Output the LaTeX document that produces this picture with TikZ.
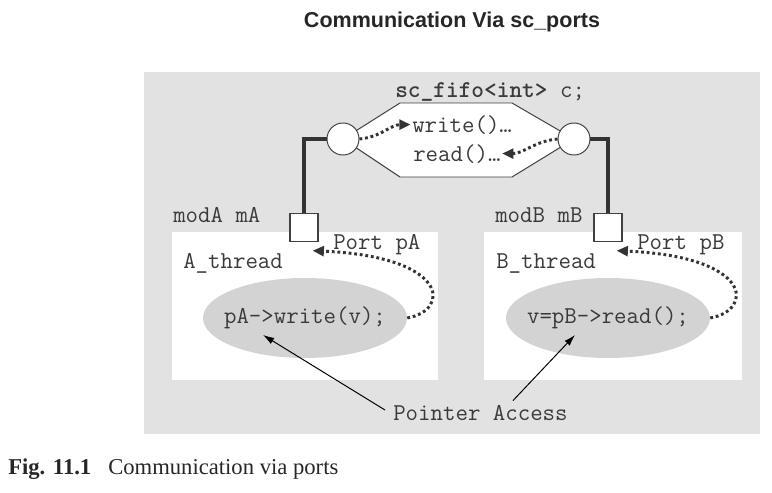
\documentclass[tikz,border=0pt]{standalone}
\usepackage{fontspec}
\setmainfont{Liberation Serif}
\newfontfamily\ttlfont{Liberation Sans}
\usetikzlibrary{arrows.meta,shapes.geometric}
\definecolor{panelgray}{HTML}{E2E2E2}
\definecolor{callgray}{HTML}{D3D3D3}
\definecolor{inktext}{HTML}{3A3A3A}
\definecolor{inkline}{HTML}{404040}
\definecolor{wiredark}{HTML}{333333}
\tikzset{
  panel/.style={fill=panelgray, draw=none},
  threadbox/.style={fill=white, draw=none},
  fifoshape/.style={fill=white, draw=inkline, line width=0.7pt, line join=miter},
  ifc/.style={circle, fill=white, draw=inkline, line width=0.7pt, minimum size=0.8cm, inner sep=0pt},
  portbox/.style={rectangle, fill=white, draw=inkline, line width=0.9pt, minimum size=0.7cm, inner sep=0pt},
  wire/.style={draw=wiredark, line width=2.3pt},
  callshape/.style={ellipse, fill=callgray, draw=none, minimum width=5.1cm, minimum height=2.0cm, inner sep=0pt},
  code/.style={font=\fontsize{17.2pt}{19pt}\selectfont\ttfamily, text=inktext, inner sep=0pt, anchor=base west},
  codec/.style={code, anchor=center},
  dotarr/.style={-{Triangle[length=8pt,width=7pt]}, draw=wiredark, line width=2.1pt, dash pattern=on 2pt off 2pt},
  ptr/.style={-{Latex[length=8pt,width=5pt]}, draw=black, line width=0.7pt},
  ttl/.style={font=\fontsize{15.3pt}{18pt}\selectfont\ttlfont\bfseries, text=black!85, inner sep=0pt, anchor=base},
  capt/.style={font=\fontsize{16.1pt}{19pt}\selectfont, text=black!85, inner sep=0pt, anchor=base west},
}

\begin{document}
\begin{tikzpicture}[x=1cm,y=1cm]
  \useasboundingbox (0.000,0.000) rectangle (19.300,-12.325);
  \node[ttl] (title) at (11.300,-0.675) {Communication Via sc\_ports};
  \fill[panel] (3.600,-1.800) rectangle (19.000,-10.850);
  \draw[fifoshape] (8.575,-3.475) -- (10.000,-2.575) -- (12.800,-2.575) -- (14.350,-3.475) -- (12.800,-4.425) -- (10.000,-4.425) -- cycle;
  \fill[threadbox] (4.300,-5.800) rectangle (10.950,-9.500);
  \fill[threadbox] (12.100,-5.800) rectangle (18.550,-9.500);
  \node[ifc] (inA) at (8.575,-3.475) {};
  \node[ifc] (inB) at (14.350,-3.475) {};
  \node[portbox] (pA) at (7.600,-5.688) {};
  \node[portbox] (pB) at (15.200,-5.688) {};
  \draw[wire] (inA.west) -| (pA.north);
  \draw[wire] (inB.east) -| (pB.north);
  \node[code] (fifoname) at (9.875,-2.425) {\textbf{sc\_fifo<int>} c;};
  \node[code] (wr) at (10.300,-3.300) {write()\ldots};
  \node[code] (rd) at (10.325,-4.025) {read()\ldots};
  \node[code] (modA) at (4.325,-5.550) {modA mA};
  \node[code] (modB) at (12.375,-5.550) {modB mB};
  \node[code] (portA) at (8.325,-6.225) {Port pA};
  \node[code] (portB) at (15.925,-6.225) {Port pB};
  \node[code] (thrA) at (4.575,-6.700) {A\_thread};
  \node[code] (thrB) at (12.400,-6.700) {B\_thread};
  \node[callshape] (callA) at (7.625,-7.950) {};
  \node[callshape] (callB) at (15.200,-7.950) {};
  \node[codec] (callAtxt) at (callA.center) {pA->write(v);};
  \node[codec] (callBtxt) at (callB.center) {v=pB->read();};
  \node[code] (pacc) at (9.825,-10.500) {Pointer Access};
  \draw[dotarr, shorten >=1pt] (inA.east) to[out=5,in=180] (wr.west);
  \draw[dotarr, shorten >=1pt] (inB.west) to[out=185,in=0] (rd.east);
  \draw[dotarr] (callA.east) .. controls +(1.100,0.200) and +(3.400,-0.150) .. ([shift={(-0.150,-0.213)}]pA.south east);
  \draw[dotarr] (callB.east) .. controls +(1.100,0.200) and +(3.400,-0.150) .. ([shift={(-0.150,-0.213)}]pB.south east);
  \draw[ptr] ([shift={(-0.200,0.063)}]pacc.west) -- ([shift={(-1.050,-0.425)}]callA.center);
  \draw[ptr] ([shift={(0.813,0.100)}]pacc.north) -- ([shift={(-0.825,-0.425)}]callB.center);
  \node[capt] (caption) at (0.200,-11.850) {\textbf{Fig. 11.1}\hspace{0.75em}Communication via ports};
\end{tikzpicture}
\end{document}
